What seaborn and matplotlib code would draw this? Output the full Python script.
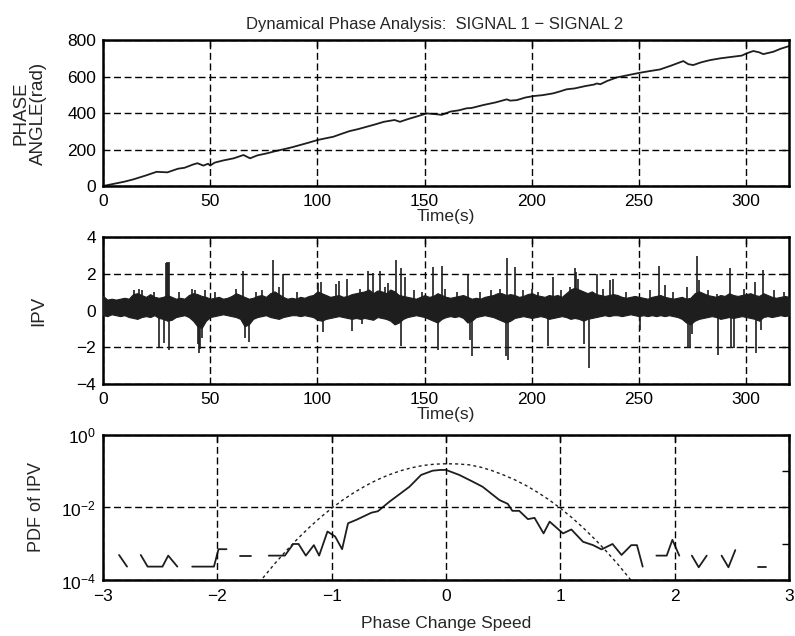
import numpy as np
import pandas as pd
import matplotlib
matplotlib.use("Agg")
import matplotlib.pyplot as plt
import seaborn as sns
from matplotlib.ticker import FixedLocator, NullFormatter

# ---------------- data ----------------
# Panel 1: accumulated phase angle (rad) vs time (s)
phase_t = [0, 5, 10, 14, 20, 25, 30, 35, 38, 42, 44, 46.8, 49, 50, 52, 56, 61, 65.5, 68.6, 72,
           76.4, 80, 84, 88, 92, 96, 100, 104, 107.4, 111, 115, 119, 123, 127, 131, 136, 138.5,
           142, 146, 151, 155, 158, 162, 166, 169.6, 172, 177.4, 183, 188.3, 190, 193, 197,
           200.7, 205, 210, 213, 216.2, 220, 225, 229, 230.3, 232, 235, 239.6, 245, 250.5, 255,
           259.8, 265, 270.7, 273, 275.3, 279, 283.1, 288, 294, 298, 300.2, 303.3, 306, 308,
           312.7, 316, 320]
phase_v = [0, 12, 24, 36, 58, 78, 75, 95, 100, 118, 125, 112, 122, 112, 128, 140, 152, 170, 152, 168,
           179, 190, 201, 212, 225, 238, 252, 262, 270, 285, 301, 312, 325, 338, 352, 362, 352,
           366, 380, 398, 394, 390, 408, 415, 426, 428, 444, 458, 475, 468, 471, 485,
           493, 498, 508, 518, 530, 535, 548, 556, 562, 558, 575, 595, 608, 621, 630,
           639, 660, 685, 668, 663, 678, 690, 700, 709, 715, 727, 740, 733, 723,
           736, 752, 767]

# Panel 2: IPV -- band envelope every 2 s and individual spikes
band_t = list(range(0, 321, 2))
band_hi = [0.8, 0.6, 0.65, 0.6, 0.65, 0.7, 0.65, 0.9, 0.95, 0.85,
           0.75, 0.9, 0.75, 0.7, 0.75, 0.85, 0.75, 0.65, 0.7, 0.65,
           0.85, 0.95, 0.9, 0.8, 0.75, 0.65, 0.7, 0.75, 0.65, 0.7,
           0.8, 0.95, 0.85, 0.75, 0.65, 0.7, 0.8, 0.85, 0.75, 0.95,
           1.05, 0.9, 0.75, 0.65, 0.7, 0.65, 0.75, 0.7, 0.8, 0.85,
           1.05, 0.95, 0.85, 0.75, 0.8, 0.85, 0.75, 0.8, 0.9, 0.95,
           1.0, 1.05, 1.15, 0.95, 1.1, 1.05, 0.95, 1.15, 1.05, 0.85,
           0.8, 0.75, 0.7, 0.65, 0.75, 0.85, 0.75, 0.8, 0.95, 0.85,
           0.75, 0.7, 0.75, 0.8, 0.85, 0.75, 0.65, 0.7, 0.65, 0.75,
           0.8, 0.85, 0.95, 0.95, 0.85, 0.9, 0.85, 0.75, 0.8, 0.9,
           0.95, 0.85, 0.8, 0.75, 0.85, 0.8, 0.85, 0.75, 0.95, 1.15,
           1.25, 1.15, 1.05, 0.95, 1.05, 0.9, 0.85, 0.8, 0.85, 0.9,
           0.85, 0.75, 0.7, 0.75, 0.8, 0.75, 0.7, 0.65, 0.75, 0.8,
           0.85, 0.75, 0.7, 0.65, 0.7, 0.75, 0.65, 0.7, 0.95, 1.05,
           0.95, 0.85, 0.8, 0.75, 0.85, 0.8, 0.95, 0.85, 0.8, 0.85,
           0.9, 0.95, 0.85, 0.8, 0.95, 0.85, 0.75, 0.7, 0.75, 0.8,
           0.75]
band_lo = [-0.25, -0.3, -0.2, -0.25, -0.3, -0.25, -0.35, -0.4, -0.45, -0.35,
           -0.3, -0.35, -0.25, -0.4, -0.45, -0.55, -0.5, -0.35, -0.3, -0.25,
           -0.35, -0.55, -0.85, -0.95, -0.55, -0.35, -0.3, -0.25, -0.2, -0.25,
           -0.3, -0.35, -0.45, -0.85, -0.75, -0.45, -0.35, -0.3, -0.25, -0.35,
           -0.4, -0.45, -0.35, -0.3, -0.25, -0.25, -0.3, -0.25, -0.3, -0.35,
           -0.5, -0.55, -0.45, -0.4, -0.35, -0.3, -0.35, -0.4, -0.45, -0.4,
           -0.45, -0.4, -0.45, -0.5, -0.35, -0.4, -0.45, -0.55, -0.75, -0.65,
           -0.45, -0.35, -0.3, -0.25, -0.3, -0.35, -0.45, -0.55, -0.65, -0.45,
           -0.35, -0.3, -0.35, -0.3, -0.4, -0.65, -0.55, -0.35, -0.3, -0.25,
           -0.3, -0.35, -0.45, -0.55, -0.65, -0.55, -0.4, -0.35, -0.3, -0.35,
           -0.4, -0.35, -0.3, -0.35, -0.45, -0.4, -0.35, -0.3, -0.35, -0.45,
           -0.4, -0.45, -0.55, -0.45, -0.4, -0.35, -0.3, -0.25, -0.3, -0.25,
           -0.25, -0.3, -0.25, -0.2, -0.25, -0.3, -0.25, -0.3, -0.25, -0.3,
           -0.25, -0.3, -0.25, -0.3, -0.35, -0.45, -0.65, -0.75, -0.55, -0.45,
           -0.4, -0.35, -0.3, -0.35, -0.45, -0.4, -0.35, -0.4, -0.35, -0.3,
           -0.35, -0.4, -0.45, -0.55, -0.35, -0.3, -0.35, -0.3, -0.25, -0.3,
           -0.25]
spike_t = [14.5, 16.8, 18.0, 23.6, 26.1, 28.3, 29.5, 29.9, 30.3, 30.7, 30.6, 35.5, 41.5, 43.0,
           44.4, 44.9, 45.4, 46.2, 47.5, 52.0, 62.1, 65.5, 66.3, 67.9, 71.5, 74.0, 79.3, 82.3,
           83.9, 90.5, 100.5, 101.5, 102.4, 108.5, 110.0, 113.7, 116.0, 119.9, 120.7, 123.8,
           126.1, 129.2, 131.5, 133.0, 136.6, 138.8, 139.0, 140.8, 145.0, 148.6, 153.7, 156.3,
           157.9, 159.5, 165.0, 170.4, 171.2, 171.9, 176.0, 181.0, 185.0, 188.3, 188.0, 188.8,
           192.1, 196.0, 199.9, 203.0, 207.7, 210.0, 213.5, 218.0, 220.1, 220.7, 221.5, 224.4,
           226.6, 230.2, 233.0, 236.4, 238.0, 244.0, 250.4, 255.0, 259.4, 262.0, 266.0, 272.4,
           272.9, 273.6, 274.8, 277.1, 278.0, 282.0, 286.5, 286.9, 292.3, 293.1, 294.4, 299.0,
           303.9, 304.7, 307.1, 307.8, 313.0, 317.5]
spike_v = [1.1, 1.2, 1.15, 1.0, -2.0, -1.75, 2.6, 2.65, 2.6, 2.65, -2.15, 1.0, 1.2, 1.15,
           -1.8, -2.3, -2.1, -1.5, 1.1, 1.0, 1.2, 2.15, -1.5, -1.7, 1.0, 1.1, 2.75, 1.3,
           2.0, 1.0, 1.5, 1.55, -1.15, 1.45, 1.6, 1.75, -1.1, 1.2, -0.75, 2.15,
           2.05, 2.15, 1.3, 1.5, 2.75, 2.35, -1.95, 1.85, 1.1, 1.0, 2.4, -2.15,
           2.45, 1.2, 1.0, 1.95, -1.6, -2.5, 1.0, 1.1, 1.2, 2.85, -2.5, -2.7,
           2.4, 1.1, 1.2, 1.0, -1.95, 1.85, 1.1, 1.3, 2.3, 2.1, 1.7, -1.8,
           -3.15, 2.0, 1.2, 1.65, 1.75, 1.0, -1.05, 1.1, 2.45, 1.4, 1.0, 1.3,
           -2.05, -2.05, -1.25, 2.95, 1.65, 1.1, 0.9, -2.4, 2.3, -2.05, -2.05, 1.2,
           1.55, -2.3, -1.05, 2.2, 1.1, 1.0]

# Panel 3: PDF of IPV (None = empty bin -> gap on log axis)
pdf_x = [-2.86, -2.79, None,
         -2.67, -2.61, -2.48, -2.43, -2.35, None,
         -2.22, -2.03, -1.99, -1.92, None,
         -1.80, -1.71, None,
         -1.55, -1.41, -1.336, -1.29, -1.226, -1.156, -1.11, -1.037, -0.97, -0.909, -0.857,
         -0.784, -0.653, -0.596, -0.494, -0.40, -0.32, -0.218, -0.117, -0.05, 0.0, 0.116, 0.234,
         0.32, 0.467, 0.54, 0.58, 0.64, 0.716, 0.774, 0.853, 0.906, 1.023, 1.096, 1.198,
         1.286, 1.36, 1.456, 1.535, 1.62, 1.67, 1.72, None,
         1.84, 1.93, 1.98, 2.04, None,
         2.15, 2.21, 2.28, None,
         2.41, 2.47, 2.53, None,
         2.73, 2.80]
pdf_y = [5.0e-4, 2.4e-4, None,
         5.0e-4, 2.4e-4, 2.4e-4, 4.8e-4, 2.4e-4, None,
         2.4e-4, 2.4e-4, 7.2e-4, 7.2e-4, None,
         4.8e-4, 4.8e-4, None,
         4.8e-4, 4.8e-4, 1.0e-3, 1.0e-3, 4.8e-4, 9.3e-4, 4.8e-4, 2.2e-3, 1.6e-3, 7.2e-4, 3.7e-3,
         4.6e-3, 7.2e-3, 7.9e-3, 1.45e-2, 2.4e-2, 3.7e-2, 7.8e-2, 0.102, 0.107, 0.107, 7.8e-2, 5.1e-2,
         3.7e-2, 1.6e-2, 1.26e-2, 8.1e-3, 8.1e-3, 4.8e-3, 5.2e-3, 1.95e-3, 4.1e-3, 1.95e-3, 2.5e-3, 1.15e-3,
         9.3e-4, 7.1e-4, 1.0e-3, 5.0e-4, 9.3e-4, 9.3e-4, 2.4e-4, None,
         4.8e-4, 4.8e-4, 1.3e-3, 4.8e-4, None,
         4.8e-4, 2.3e-4, 4.8e-4, None,
         4.8e-4, 2.3e-4, 6.8e-4, None,
         2.4e-4, 2.4e-4]
# Gaussian reference (dotted)
gauss_x = [-1.7, -1.6, -1.5, -1.4, -1.3, -1.2, -1.1, -1.0, -0.9, -0.8, -0.7, -0.6, -0.5, -0.4,
           -0.3, -0.2, -0.1, 0.0, 0.1, 0.2, 0.3, 0.4, 0.5, 0.6, 0.7, 0.8, 0.9, 1.0, 1.1, 1.2,
           1.3, 1.4, 1.5, 1.6, 1.7]
gauss_y = [4.7e-5, 1.19e-4, 2.85e-4, 6.4e-4, 1.37e-3, 2.77e-3, 5.3e-3, 9.55e-3, 1.63e-2, 2.62e-2,
           4.0e-2, 5.77e-2, 7.85e-2, 0.101, 0.123, 0.142, 0.154, 0.158, 0.156, 0.148, 0.128, 0.103,
           7.85e-2, 5.77e-2, 4.0e-2, 2.62e-2, 1.63e-2, 9.55e-3, 5.3e-3, 2.77e-3, 1.37e-3, 6.4e-4,
           2.85e-4, 1.19e-4, 4.7e-5]

title_text = "Dynamical Phase Analysis:  SIGNAL 1 \u2212 SIGNAL 2"
time_ticks = [0, 50, 100, 150, 200, 250, 300]
speed_ticks = [-3, -2, -1, 0, 1, 2, 3]

# ---------------- style ----------------
sns.set_style("white")
plt.rcParams["font.family"] = ["Liberation Sans", "DejaVu Sans"]
plt.rcParams["axes.unicode_minus"] = True
plt.rcParams["mathtext.fontset"] = "custom"
plt.rcParams["mathtext.rm"] = "Liberation Sans"
plt.rcParams["mathtext.it"] = "Liberation Sans:italic"
plt.rcParams["mathtext.bf"] = "Liberation Sans:bold"

INK = "#1e1e1e"
GRID = dict(color="black", linestyle=(0, (5, 2.6)), linewidth=1.0)

fig = plt.figure(figsize=(7.95, 6.36), dpi=100)
left, width = 0.1296, 0.8629
ax1 = fig.add_axes([left, 0.7075, width, 0.2295])
ax2 = fig.add_axes([left, 0.3962, width, 0.2308])
ax3 = fig.add_axes([left, 0.0873, width, 0.2295])


def frame(ax):
    for s in ax.spines.values():
        s.set_visible(True)
        s.set_color("black")
        s.set_linewidth(1.8)
    ax.tick_params(which="both", direction="in", top=True, right=True,
                   length=5, width=1.0, colors="black", labelsize=12.5)
    ax.tick_params(axis="x", pad=6)
    ax.tick_params(axis="y", pad=5)
    ax.set_axisbelow(False)


# Panel 1
sns.lineplot(x=phase_t, y=phase_v, ax=ax1, color=INK, linewidth=1.3, sort=False)
ax1.set_xlim(0, 320)
ax1.set_ylim(0, 800)
ax1.set_xticks(time_ticks)
ax1.set_yticks([0, 200, 400, 600, 800])
ax1.grid(True, **GRID)
frame(ax1)
ax1.set_xlabel("Time(s)", fontsize=12.5, labelpad=0)
ax1.set_ylabel("PHASE\nANGLE(rad)", fontsize=13.5, linespacing=1.0)
ax1.yaxis.set_label_coords(-0.082, 0.5)
ax1.set_title(title_text, fontsize=12, pad=8, x=0.484)

# Panel 2
ax2.fill_between(band_t, band_lo, band_hi, color=INK, linewidth=0.8, edgecolor=INK, zorder=3)
ax2.vlines(spike_t, 0.25, spike_v, color=INK, linewidth=1.2, zorder=3)
ax2.set_xlim(0, 320)
ax2.set_ylim(-4, 4)
ax2.set_xticks(time_ticks)
ax2.set_yticks([-4, -2, 0, 2, 4])
ax2.grid(True, **GRID)
frame(ax2)
ax2.set_xlabel("Time(s)", fontsize=12.5, labelpad=0)
ax2.set_ylabel("IPV", fontsize=13.5)
ax2.yaxis.set_label_coords(-0.082, 0.5)

# Panel 3
seg, sid = [], 0
for v in pdf_x:
    if v is None:
        sid += 1
    seg.append(sid)
pdf_df = pd.DataFrame({"x": pdf_x, "y": pdf_y, "seg": seg}).dropna()
sns.lineplot(data=pdf_df, x="x", y="y", units="seg", estimator=None, ax=ax3,
             color=INK, linewidth=1.3, sort=False)
sns.lineplot(x=gauss_x, y=gauss_y, ax=ax3, color=INK, linewidth=1.0, sort=False,
             linestyle=(0, (2.2, 2.2)))
ax3.set_yscale("log")
ax3.set_xlim(-3, 3)
ax3.set_ylim(1e-4, 1)
ax3.set_xticks(speed_ticks)
ax3.yaxis.set_major_locator(FixedLocator([1e-4, 1e-2, 1]))
ax3.yaxis.set_minor_locator(FixedLocator([1e-3, 1e-1]))
ax3.yaxis.set_minor_formatter(NullFormatter())
ax3.grid(True, which="major", **GRID)
frame(ax3)
ax3.tick_params(axis="x", which="minor", bottom=False, top=False)
ax3.set_xlabel("Phase Change Speed", fontsize=12.5, labelpad=9)
ax3.set_ylabel("PDF of IPV", fontsize=13)
ax3.yaxis.set_label_coords(-0.084, 0.5)

fig.savefig("out.png", dpi=100)
